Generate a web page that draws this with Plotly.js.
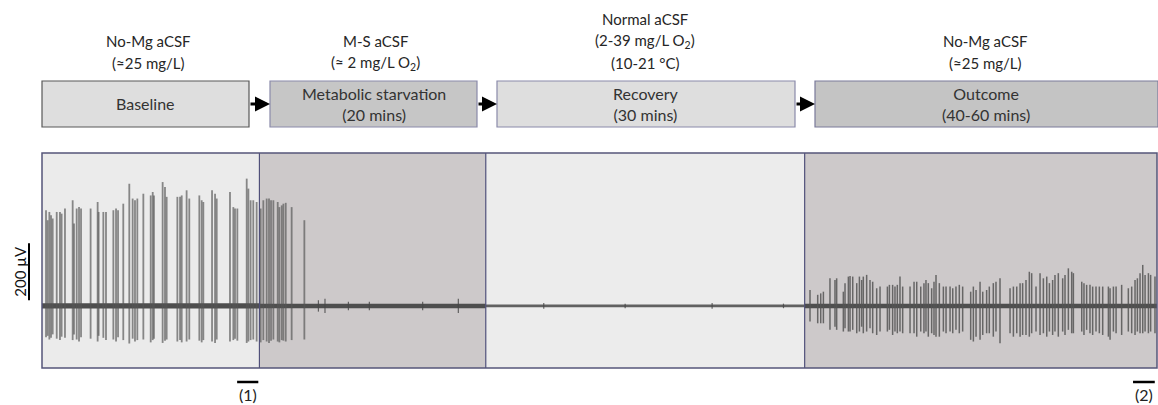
<!DOCTYPE html>
<html>
<head>
<meta charset="utf-8">
<script src="https://cdn.plot.ly/plotly-3.0.1.min.js"></script>
<style>html,body{margin:0;padding:0;background:#fff;}#chart{width:1158px;height:405px;}</style>
</head>
<body>
<div id="chart"></div>
<script>
// ---------------- DATA ----------------
// Phases (time axis in minutes)
const phaseNames   = ["Baseline", "Metabolic starvation<br>(20 mins)", "Recovery<br>(30 mins)", "Outcome<br>(40-60 mins)"];
const phaseMedia   = [
  ["No-Mg aCSF", "(≈25 mg/L)"],
  ["M-S aCSF", "(≈ 2 mg/L O<sub>2</sub>)"],
  ["Normal aCSF", "(2-39 mg/L O<sub>2</sub>)", "(10-21 °C)"],
  ["No-Mg aCSF", "(≈25 mg/L)"]];
const phaseStart   = [0, 19.5, 39.8, 68.4];
const phaseEnd     = [19.5, 39.8, 68.4, 100];
const phaseNoise   = [9, 8, 5, 8];          // µV, half-width of background noise band

// Seizure-like discharges (baseline, spilling into metabolic starvation)
const seizureT = [
  0.36,0.51,0.66,0.81,0.96,1.32,1.61,1.76,2.06,2.75,
  2.87,3.11,3.32,3.50,4.36,4.99,5.08,5.50,5.74,6.40,
  6.64,6.82,7.29,7.83,8.13,8.34,8.55,9.09,9.75,9.93,
  10.04,10.82,11.03,11.18,12.14,12.38,12.53,12.97,13.21,14.11,
  14.32,14.47,15.25,15.52,15.67,16.86,17.16,17.31,17.52,18.36,
  18.51,18.71,18.95,19.25,19.61,19.85,20.15,20.36,20.54,20.75,
  21.14,21.29,21.50,21.65,21.86,22.39,23.53];
const seizureUp = [
  336,301,330,318,307,330,330,324,342,371,
  289,342,347,342,342,365,330,330,330,336,
  342,336,359,429,377,371,377,394,388,400,
  388,435,418,383,383,383,388,406,377,388,
  371,365,406,394,377,400,347,342,342,447,
  412,371,371,365,342,371,377,377,371,371,
  365,347,353,359,362,347,301];
const seizureDown = [
  110,105,118,112,100,115,120,108,112,120,
  100,118,125,110,115,125,105,112,120,118,
  125,110,120,132,115,125,120,118,128,120,
  115,130,122,118,125,120,128,125,118,122,
  128,120,125,130,118,125,120,115,122,130,
  125,120,118,125,128,120,125,130,122,118,
  125,128,120,122,125,120,118];

// Small residual events during starvation / recovery
const blipT   = [24.79,25.38,27.48,29.36,34.14,37.34,45.0,52.3,60.1,66.5];
const blipAmp = [20,25,15,15,15,25,10,8,10,8];

// Interictal-like discharges in the outcome phase
const outcomeT = [
  68.88,69.57,69.84,70.08,70.67,71.12,71.27,71.87,72.02,72.32,
  72.47,72.71,73.07,73.31,73.51,73.66,73.96,74.26,74.50,74.86,
  75.16,75.82,76.00,76.29,76.50,76.71,76.95,77.19,77.85,78.21,
  78.45,78.81,79.10,79.28,79.49,79.79,80.00,80.18,80.48,80.84,
  81.08,81.44,81.68,81.97,82.27,82.57,83.29,83.53,83.77,84.13,
  84.37,84.72,84.96,85.32,85.56,85.92,86.82,87.12,87.42,87.72,
  87.95,88.25,88.55,88.76,89.15,89.51,89.81,90.11,90.35,90.64,
  90.85,91.15,91.54,91.75,92.05,92.35,92.50,93.25,93.45,93.69,
  93.99,94.23,94.53,94.83,95.13,95.64,95.79,96.09,96.33,96.83,
  97.43,97.73,98.03,98.24,98.48,98.72,98.93,99.23,99.43,99.82];
const outcomeUp = [
  56,39,44,50,97,91,97,50,80,103,
  105,103,80,103,91,103,109,91,85,62,
  68,68,74,74,68,74,103,68,68,85,
  85,68,80,91,80,62,85,109,80,68,
  68,68,62,68,74,68,50,68,56,85,
  50,56,68,80,85,97,62,68,68,80,
  80,91,120,115,68,115,97,103,80,91,
  109,115,97,109,132,120,115,85,80,74,
  74,68,68,68,68,68,62,68,68,74,
  62,68,91,97,115,144,109,115,109,103];
const outcomeDown = [
  55,61,61,61,84,73,84,90,78,90,
  90,84,96,90,73,96,90,78,96,102,
  90,90,84,102,90,96,90,96,96,96,
  108,90,96,90,108,96,102,108,108,90,
  96,90,96,84,96,90,119,125,108,119,
  102,96,96,108,90,131,96,108,96,108,
  102,102,108,96,90,102,96,108,90,102,
  90,108,90,102,84,96,96,90,102,84,
  96,102,90,96,102,108,119,90,96,102,
  90,96,102,90,96,96,90,96,90,96];

// Analysis windows marked under the trace
const windowStart = [17.5, 97.85];
const windowEnd   = [19.4, 99.8];
const windowLabel = ["(1)", "(2)"];

const scaleBarValue = 200;   // µV
const scaleBarBase  = 20;    // µV, bottom of scale bar

// ---------------- HELPERS ----------------
const L = 42, R = 1157, T = 153, B = 368;
const px = x => (x - L) / (R - L);   // pixel x -> paper
const py = y => (B - y) / (B - T);   // pixel y -> paper

function spikeTrace(ts, ups, downs, color, width) {
  const x = [], y = [];
  ts.forEach((t, i) => { x.push(t, t, null); y.push(ups[i], -downs[i], null); });
  return {type: 'scatter', mode: 'lines', x, y, hoverinfo: 'skip', showlegend: false,
          line: {color, width}};
}

const traces = [];
phaseStart.forEach((s, i) => {
  const e = phaseEnd[i], n = phaseNoise[i];
  traces.push({type: 'scatter', mode: 'lines', x: [s, e, e, s, s], y: [n, n, -n, -n, n],
    fill: 'toself', fillcolor: i === 2 ? '#616161' : '#4e4e4e', line: {width: 0},
    hoverinfo: 'skip', showlegend: false});
});
traces.push(spikeTrace(blipT, blipAmp, blipAmp, 'rgba(70,70,70,0.8)', 1.2));
traces.push(spikeTrace(seizureT, seizureUp, seizureDown, 'rgba(85,85,85,0.68)', 1.8));
traces.push(spikeTrace(outcomeT, outcomeUp, outcomeDown, 'rgba(85,85,85,0.85)', 1.5));

// ---------------- LAYOUT ----------------
const regionFill = ['#ebebeb', '#cdc9ca', '#ececec', '#cdc9ca'];
const shapes = [];
phaseStart.forEach((s, i) => {
  shapes.push({type: 'rect', xref: 'x', yref: 'paper', x0: s, x1: phaseEnd[i], y0: 0, y1: 1,
    fillcolor: regionFill[i], line: {width: 0}, layer: 'below'});
  if (i > 0) shapes.push({type: 'line', xref: 'x', yref: 'paper', x0: s, x1: s, y0: 0, y1: 1,
    line: {color: '#50507a', width: 1.2}});
});
shapes.push({type: 'rect', xref: 'paper', yref: 'paper', x0: 0, x1: 1, y0: 0, y1: 1,
  line: {color: '#55557a', width: 1.5}});

// protocol boxes
const boxPx = [[42, 249], [270, 477], [497, 795], [815, 1158]];
const boxFill = ['#dedede', '#c6c6c6', '#dedede', '#c4c4c4'];
const boxLine = ['#585858', '#8a8aaa', '#8a8aaa', '#7a7a9a'];
boxPx.forEach((b, i) => {
  shapes.push({type: 'rect', xref: 'paper', yref: 'paper', x0: px(b[0]), x1: px(b[1]),
    y0: py(127), y1: py(81), fillcolor: boxFill[i], line: {color: boxLine[i], width: 1.2}});
});

// scale bar
shapes.push({type: 'line', xref: 'paper', yref: 'y', x0: px(29), x1: px(29),
  y0: scaleBarBase, y1: scaleBarBase + scaleBarValue, line: {color: '#000', width: 2}});

// analysis windows
windowStart.forEach((s, i) => {
  shapes.push({type: 'line', xref: 'x', yref: 'paper', x0: s, x1: windowEnd[i],
    y0: py(382), y1: py(382), line: {color: '#000', width: 2.5}});
});

const font = {family: 'Lato, "Open Sans", sans-serif', size: 15, color: '#262626'};
const annotations = [];
const mediaCenter = [148, 375, 645, 985];
const lineY = [63, 41, 19];   // pixel centers of media label lines, from bottom up
phaseMedia.forEach((lines, i) => {
  const n = lines.length;
  lines.forEach((ln, k) => {
    annotations.push({text: ln, xref: 'paper', yref: 'paper', x: px(mediaCenter[i]), y: py(lineY[n - 1 - k]),
      xanchor: 'center', yanchor: 'middle', showarrow: false, font, align: 'center'});
  });
});
phaseNames.forEach((n, i) => {
  const b = boxPx[i];
  annotations.push({text: n, xref: 'paper', yref: 'paper', x: px((b[0] + Math.min(b[1], 1157)) / 2), y: py(104),
    xanchor: 'center', yanchor: 'middle', showarrow: false, font: {...font, size: 16, color: '#333'}, align: 'center'});
});
// arrows between boxes
[[249, 270], [477, 497], [795, 815]].forEach(a => {
  annotations.push({text: '', xref: 'paper', yref: 'paper', x: px(a[1]), y: py(104),
    ax: -(a[1] - a[0]), ay: 0, axref: 'pixel', ayref: 'pixel', showarrow: true,
    arrowhead: 2, arrowsize: 1, arrowwidth: 3, arrowcolor: '#000', standoff: 0, startstandoff: 0});
});
// scale bar label
annotations.push({text: scaleBarValue + ' µV', xref: 'paper', yref: 'y', x: px(20), y: scaleBarBase + scaleBarValue / 2,
  textangle: -90, xanchor: 'center', yanchor: 'middle', showarrow: false, font: {...font, size: 15, color: '#111'}});
// window labels
windowLabel.forEach((w, i) => {
  annotations.push({text: w, xref: 'x', yref: 'paper', x: (windowStart[i] + windowEnd[i]) / 2, y: py(394),
    xanchor: 'center', yanchor: 'middle', showarrow: false, font: {...font, size: 16, color: '#222'}});
});

const layout = {
  width: 1158, height: 405,
  margin: {l: L, r: 1158 - R, t: T, b: 405 - B, pad: 0},
  paper_bgcolor: '#fff', plot_bgcolor: 'rgba(0,0,0,0)',
  showlegend: false,
  xaxis: {range: [0, 100], visible: false, fixedrange: true},
  yaxis: {range: [-218, 537], visible: false, fixedrange: true},
  shapes, annotations
};

Plotly.newPlot('chart', traces, layout, {staticPlot: true, displayModeBar: false});
</script>
</body>
</html>
